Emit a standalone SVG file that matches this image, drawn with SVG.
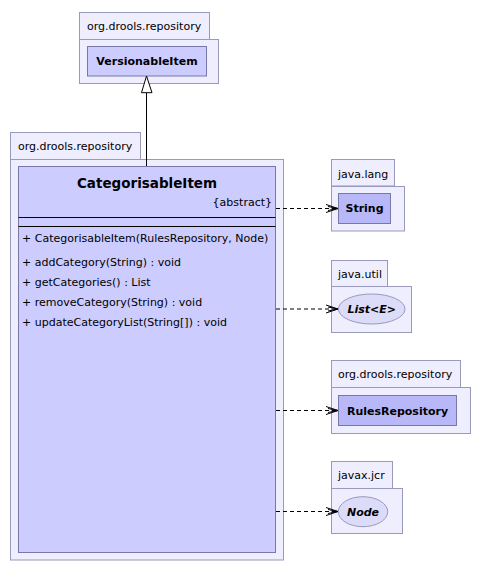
<svg xmlns="http://www.w3.org/2000/svg" width="481" height="575" viewBox="0 0 481 575">
<style>
.pkg{fill:#eeeeff;stroke:#9999bb;stroke-width:1}
.cls{fill:#ccccff;stroke:#7777aa;stroke-width:1}
.cls2{fill:#b8b8f8;stroke:#7777aa;stroke-width:1}
.ell{fill:#dcdcf8;stroke:#9999bb;stroke-width:1}
.pl{font-family:"DejaVu Sans",sans-serif;font-size:11px;fill:#000}
.cn{font-family:"DejaVu Sans",sans-serif;font-size:11px;font-weight:bold;fill:#000;text-anchor:middle}
.ci{font-family:"DejaVu Sans",sans-serif;font-size:11px;font-weight:bold;font-style:italic;fill:#000;text-anchor:middle}
.mb{font-family:"DejaVu Sans",sans-serif;font-size:11px;fill:#000}
.dep{fill:none;stroke:#000;stroke-width:1;stroke-dasharray:4,3}
</style>
<defs>
<marker id="open" markerWidth="14" markerHeight="10" refX="12" refY="5" orient="auto" markerUnits="userSpaceOnUse">
<path d="M0,1 L12,5 L0,9 M2,3 L12,5 L2,7" fill="none" stroke="#000" stroke-width="1"/>
</marker>
</defs>
<g id="pkg-versionable">
<rect class="pkg" x="79.5" y="12.5" width="130" height="27"/>
<rect class="pkg" x="79.5" y="39.5" width="139" height="44"/>
<text class="pl" x="87" y="30">org.drools.repository</text>
</g>
<g id="VersionableItem">
<rect class="cls" x="87.5" y="46.5" width="119" height="29.5"/>
<text class="cn" x="147" y="64.5">VersionableItem</text>
</g>
<g id="pkg-main">
<rect class="pkg" x="10.5" y="132.5" width="130" height="27"/>
<rect class="pkg" x="10.5" y="159.5" width="273" height="400.5"/>
<text class="pl" x="18" y="150">org.drools.repository</text>
</g>
<g id="CategorisableItem">
<rect class="cls" x="18.5" y="166.5" width="257" height="386"/>
<text class="cn" x="147" y="188" style="font-size:13.5px">CategorisableItem</text>
<text class="mb" x="272" y="206" text-anchor="end">{abstract}</text>
<line x1="18.5" y1="217.5" x2="275.5" y2="217.5" stroke="#000"/>
<line x1="18.5" y1="226.5" x2="275.5" y2="226.5" stroke="#000"/>
<text class="mb" x="22" y="242">+ CategorisableItem(RulesRepository, Node)</text>
<text class="mb" x="22" y="266">+ addCategory(String) : void</text>
<text class="mb" x="22" y="286">+ getCategories() : List</text>
<text class="mb" x="22" y="306">+ removeCategory(String) : void</text>
<text class="mb" x="22" y="326">+ updateCategoryList(String[]) : void</text>
</g>
<g id="pkg-java-lang">
<rect class="pkg" x="331.5" y="159.5" width="63" height="26.5"/>
<rect class="pkg" x="331.5" y="186.5" width="73" height="44.5"/>
<text class="pl" x="338" y="177.5">java.lang</text>
</g>
<g id="String">
<rect class="cls2" x="338.5" y="193.5" width="52" height="30"/>
<text class="cn" x="364.5" y="212">String</text>
</g>
<g id="pkg-java-util">
<rect class="pkg" x="331.5" y="260.5" width="56" height="26"/>
<rect class="pkg" x="331.5" y="286.5" width="80" height="46"/>
<text class="pl" x="338" y="278">java.util</text>
</g>
<g id="List">
<ellipse class="ell" cx="371.7" cy="309" rx="33.3" ry="15"/>
<text class="ci" x="371.7" y="313">List&lt;E&gt;</text>
</g>
<g id="pkg-rules">
<rect class="pkg" x="331.5" y="360.5" width="129" height="27"/>
<rect class="pkg" x="331.5" y="387.5" width="139" height="46"/>
<text class="pl" x="338" y="378">org.drools.repository</text>
</g>
<g id="RulesRepository">
<rect class="cls2" x="338.5" y="395.5" width="118" height="30"/>
<text class="cn" x="397.5" y="414.5">RulesRepository</text>
</g>
<g id="pkg-jcr">
<rect class="pkg" x="331.5" y="461.5" width="61" height="27"/>
<rect class="pkg" x="331.5" y="488.5" width="71" height="45"/>
<text class="pl" x="338" y="479">javax.jcr</text>
</g>
<g id="Node">
<ellipse class="ell" cx="363" cy="511.7" rx="24.7" ry="15"/>
<text class="ci" x="363" y="515.5">Node</text>
</g>
<g id="connectors">
<line x1="146.5" y1="166" x2="146.5" y2="92.7" stroke="#000" stroke-width="1"/>
<polygon points="146.5,76 141.5,92.7 152,92.7" fill="#fff" stroke="#000" stroke-width="1"/>
<line class="dep" x1="276" y1="208.5" x2="338" y2="208.5" marker-end="url(#open)"/>
<line class="dep" x1="276" y1="309" x2="338" y2="309" marker-end="url(#open)"/>
<line class="dep" x1="276" y1="410.5" x2="338" y2="410.5" marker-end="url(#open)"/>
<line class="dep" x1="276" y1="511.5" x2="338" y2="511.5" marker-end="url(#open)"/>
</g>
</svg>
